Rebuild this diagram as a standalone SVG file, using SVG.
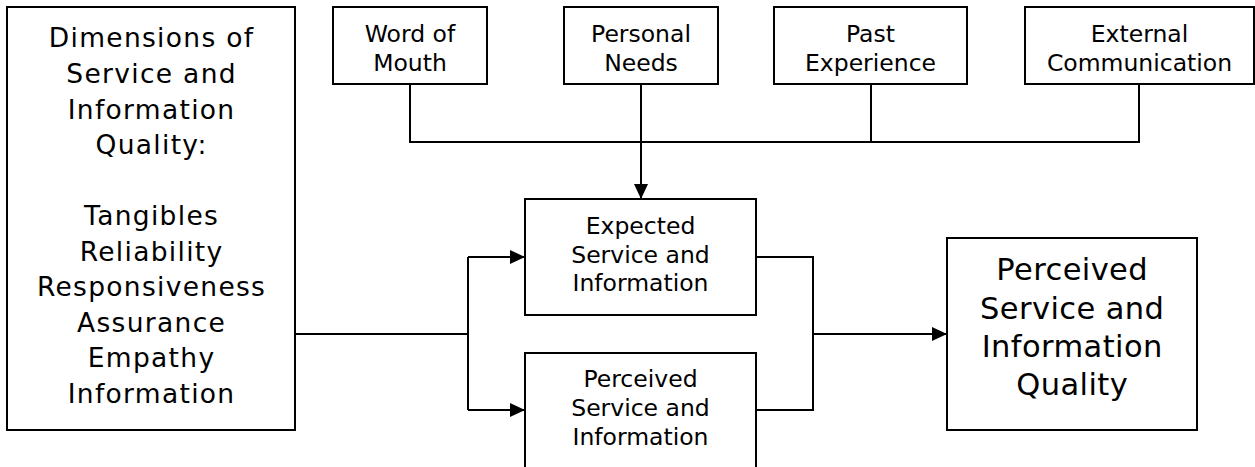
<svg xmlns="http://www.w3.org/2000/svg" width="1255" height="467" viewBox="0 0 1255 467">
<style>
  .box { fill: #ffffff; stroke: #000000; stroke-width: 2; }
  .t { font-family: "DejaVu Sans", Verdana, sans-serif; fill: #000000; text-anchor: middle; }
  .s { font-size: 23.5px; }
  .m { font-size: 26.5px; letter-spacing: 1.3px; }
  .l { font-size: 30.5px; letter-spacing: 0.4px; }
  .c { fill: none; stroke: #000000; stroke-width: 2; }
</style>
<defs>
  <marker id="arr" markerUnits="userSpaceOnUse" markerWidth="15" markerHeight="14" refX="15" refY="7" orient="auto">
    <path d="M0,0 L15,7 L0,14 Z" fill="#000000"/>
  </marker>
</defs>
<rect width="1255" height="467" fill="#ffffff"/>

<g id="connectors">
  <path class="c" d="M410,84 V142 H1139 V84"/>
  <path class="c" d="M871,84 V142"/>
  <path class="c" d="M641,84 V199" marker-end="url(#arr)"/>
  <path class="c" d="M295,334 H468"/>
  <path class="c" d="M468,257 V410"/>
  <path class="c" d="M468,257 H525" marker-end="url(#arr)"/>
  <path class="c" d="M468,410 H525" marker-end="url(#arr)"/>
  <path class="c" d="M756,257 H813 V410 H756"/>
  <path class="c" d="M813,334 H947" marker-end="url(#arr)"/>
</g>

<g id="dimensions">
  <rect class="box" x="7" y="7" width="288" height="423"/>
  <text class="t m" x="151.6" y="47">Dimensions of</text>
  <text class="t m" x="151.6" y="83">Service and</text>
  <text class="t m" x="151.6" y="119">Information</text>
  <text class="t m" x="151.6" y="154">Quality:</text>
  <text class="t m" x="151.6" y="225">Tangibles</text>
  <text class="t m" x="151.6" y="261">Reliability</text>
  <text class="t m" x="151.6" y="296">Responsiveness</text>
  <text class="t m" x="151.6" y="332">Assurance</text>
  <text class="t m" x="151.6" y="367">Empathy</text>
  <text class="t m" x="151.6" y="403">Information</text>
</g>

<g id="word-of-mouth">
  <rect class="box" x="333" y="7" width="154" height="77"/>
  <text class="t s" x="410" y="42">Word of</text>
  <text class="t s" x="410" y="71">Mouth</text>
</g>

<g id="personal-needs">
  <rect class="box" x="564" y="7" width="154" height="77"/>
  <text class="t s" x="641" y="42">Personal</text>
  <text class="t s" x="641" y="71">Needs</text>
</g>

<g id="past-experience">
  <rect class="box" x="774" y="7" width="193" height="77"/>
  <text class="t s" x="870.5" y="42">Past</text>
  <text class="t s" x="870.5" y="71">Experience</text>
</g>

<g id="external-communication">
  <rect class="box" x="1025" y="7" width="229" height="77"/>
  <text class="t s" x="1139.5" y="42">External</text>
  <text class="t s" x="1139.5" y="71">Communication</text>
</g>

<g id="expected">
  <rect class="box" x="525" y="199" width="231" height="116"/>
  <text class="t s" x="640.5" y="234">Expected</text>
  <text class="t s" x="640.5" y="263">Service and</text>
  <text class="t s" x="640.5" y="291">Information</text>
</g>

<g id="perceived">
  <rect class="box" x="525" y="353" width="231" height="120"/>
  <text class="t s" x="640.5" y="387">Perceived</text>
  <text class="t s" x="640.5" y="416">Service and</text>
  <text class="t s" x="640.5" y="445">Information</text>
</g>

<g id="perceived-quality">
  <rect class="box" x="947" y="238" width="250" height="192"/>
  <text class="t l" x="1072.2" y="280">Perceived</text>
  <text class="t l" x="1072.2" y="319">Service and</text>
  <text class="t l" x="1072.2" y="357">Information</text>
  <text class="t l" x="1072.2" y="395">Quality</text>
</g>
</svg>
